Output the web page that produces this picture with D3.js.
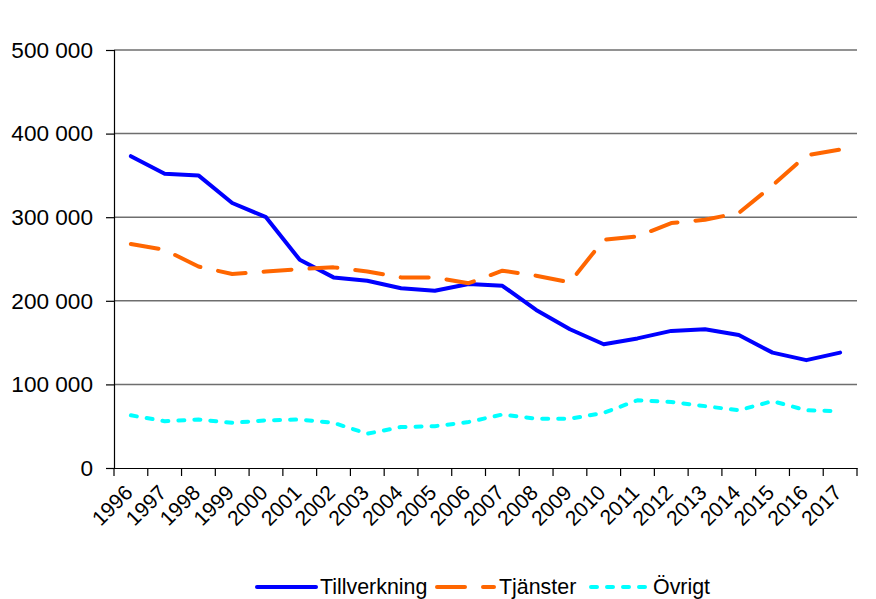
<!DOCTYPE html>
<html>
<head>
<meta charset="utf-8">
<script src="https://cdn.jsdelivr.net/npm/d3@7"></script>
<style>
  html, body { margin: 0; padding: 0; background: #fff; }
  svg { display: block; font-family: "Liberation Sans", Arial, sans-serif; }
</style>
</head>
<body>
<svg id="chart" width="876" height="599"></svg>
<script>
const years = ["1996","1997","1998","1999","2000","2001","2002","2003","2004","2005","2006","2007","2008","2009","2010","2011","2012","2013","2014","2015","2016","2017"];
const tillverkning = [373000,352000,350000,317000,300000,249000,228000,224000,215000,212000,220000,218000,189000,166000,148000,155000,164000,166000,159000,138000,129000,138000];
const tjanster = [268000,261000,241000,232000,235000,238000,240000,235000,228000,228000,221000,236000,230000,222000,273000,277000,293000,297000,305000,338000,374000,381000];
const ovrigt = [63000,56000,58000,54000,57000,58000,54000,41000,49000,50000,55000,64000,59000,59000,66000,81000,79000,74000,69000,80000,69000,68000];
const yTicks = [0,100000,200000,300000,400000,500000];
const seriesNames = ["Tillverkning","Tjänster","Övrigt"];
const seriesColors = ["#0000ff","#ff6600","#00ffff"];
const seriesDash = [null,"28,18","6,10"];

const svg = d3.select("#chart");
const mLeft = 114, mRight = 857, mTop = 50, mBottom = 468;

const x = d3.scaleBand().domain(years).range([mLeft, mRight]).padding(0);
const y = d3.scaleLinear().domain([0, 500000]).range([mBottom, mTop]);

const fmt = v => d3.format(",")(v).replace(/,/g, " ");

// gridlines
svg.append("g").selectAll("line").data(yTicks.filter(d => d > 0)).join("line")
  .attr("x1", mLeft).attr("x2", mRight)
  .attr("y1", d => y(d)).attr("y2", d => y(d))
  .attr("stroke", "#6e6e6e").attr("stroke-width", 1.5);

// y axis
const yAxis = svg.append("g").attr("transform", `translate(${mLeft},0)`)
  .call(d3.axisLeft(y).tickValues(yTicks).tickFormat(fmt).tickSize(8).tickPadding(13));
yAxis.select(".domain").attr("stroke", "#000").attr("stroke-width", 1.2);
yAxis.selectAll(".tick line").attr("stroke", "#000").attr("stroke-width", 1.2);
yAxis.selectAll("text").attr("font-size", 22.6).attr("fill", "#000")
  .attr("font-family", "'Liberation Sans', Arial, sans-serif");

// x axis
const xAxis = svg.append("g").attr("transform", `translate(0,${mBottom})`)
  .call(d3.axisBottom(x).tickSize(0).tickSizeOuter(0));
xAxis.select(".domain").attr("stroke", "#000").attr("stroke-width", 1.2);
const boundaries = years.map(d => x(d)).concat([mRight]);
xAxis.append("g").selectAll("line").data(boundaries).join("line")
  .attr("x1", d => d).attr("x2", d => d).attr("y1", 0).attr("y2", 8)
  .attr("stroke", "#000").attr("stroke-width", 1.2);
xAxis.selectAll(".tick text")
  .attr("font-size", 21).attr("fill", "#000")
  .attr("font-family", "'Liberation Sans', Arial, sans-serif")
  .attr("text-anchor", "end")
  .attr("dy", null).attr("y", 0)
  .attr("transform", "translate(3,26) rotate(-45)");

// lines
const data = [tillverkning, tjanster, ovrigt];
const line = d3.line().x((d, i) => x(years[i]) + x.bandwidth() / 2).y(d => y(d));
[2, 0, 1].forEach(k => {
  svg.append("path").datum(data[k])
    .attr("d", line)
    .attr("fill", "none")
    .attr("stroke", seriesColors[k])
    .attr("stroke-width", 4)
    .attr("stroke-linejoin", "round")
    .attr("stroke-linecap", "round")
    .attr("stroke-dasharray", seriesDash[k]);
});

// legend
const legendItems = [
  {x1: 257, x2: 316, tx: 320},
  {x1: 437, x2: 494, tx: 499},
  {x1: 591, x2: 648, tx: 653}
];
const ly = 586;
const lg = svg.append("g");
legendItems.forEach((it, k) => {
  lg.append("line").attr("x1", it.x1).attr("x2", it.x2).attr("y1", ly + 1).attr("y2", ly + 1)
    .attr("stroke", seriesColors[k]).attr("stroke-width", 4)
    .attr("stroke-linecap", "round")
    .attr("stroke-dasharray", seriesDash[k]);
  lg.append("text").attr("x", it.tx).attr("y", ly).attr("dy", "0.36em")
    .attr("font-size", 21.4).attr("fill", "#000").text(seriesNames[k]);
});
</script>
</body>
</html>
